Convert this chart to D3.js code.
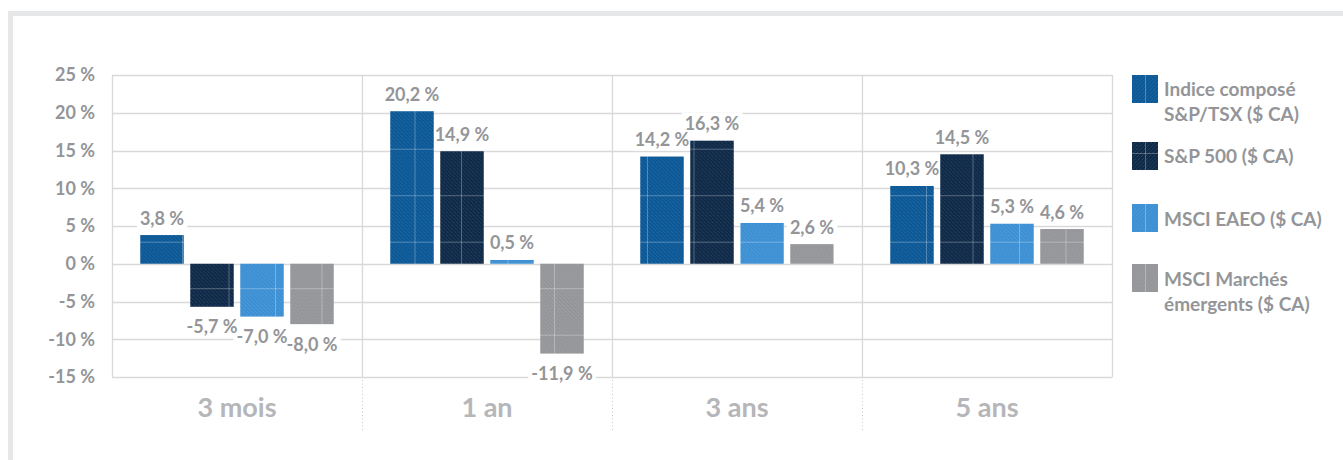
<!DOCTYPE html>
<html>
<head>
<meta charset="utf-8">
<script src="https://cdn.jsdelivr.net/npm/d3@7"></script>
<style>
  html, body { margin: 0; padding: 0; background: #fff; }
  svg { display: block; font-family: Lato, "Open Sans", sans-serif; }
</style>
</head>
<body>
<svg id="chart" width="1343" height="460"></svg>
<script>
const categories = ["3 mois", "1 an", "3 ans", "5 ans"];
const seriesNames = ["Indice composé S&P/TSX ($ CA)", "S&P 500 ($ CA)", "MSCI EAEO ($ CA)", "MSCI Marchés émergents ($ CA)"];
const legendLines = [["Indice composé", "S&P/TSX ($ CA)"], ["S&P 500 ($ CA)"], ["MSCI EAEO ($ CA)"], ["MSCI Marchés", "émergents ($ CA)"]];
const tsxValues = [3.8, 20.2, 14.2, 10.3];
const sp500Values = [-5.7, 14.9, 16.3, 14.5];
const eaeoValues = [-7.0, 0.5, 5.4, 5.3];
const emValues = [-8.0, -11.9, 2.6, 4.6];
const yTicks = [-15, -10, -5, 0, 5, 10, 15, 20, 25];
const colors = ["#0a5796", "#0d2847", "#3b8fd3", "#939598"];

const seriesValues = [tsxValues, sp500Values, eaeoValues, emValues];
const fmt = v => v.toFixed(1).replace(".", ",") + " %";

const svg = d3.select("#chart");
const M = { left: 112, right: 1112, top: 75, bottom: 377 };

// frame
svg.append("rect").attr("x", 8).attr("y", 11).attr("width", 1335).attr("height", 5).attr("fill", "#e6e7e8");
svg.append("rect").attr("x", 8).attr("y", 11).attr("width", 5).attr("height", 449).attr("fill", "#e6e7e8");

const x0 = d3.scaleBand().domain(categories).range([M.left, M.right]).padding(0);
const x1 = d3.scaleBand().domain(d3.range(4)).range([0, x0.bandwidth()]).paddingInner(0.13).paddingOuter(0.565);
const y = d3.scaleLinear().domain([-15, 25]).range([M.bottom, M.top]);

// patterns
const defs = svg.append("defs");
const T = 46.5;
function makePattern(id, color, dir, ox, oy) {
  const p = defs.append("pattern").attr("id", id).attr("patternUnits", "userSpaceOnUse")
    .attr("width", T).attr("height", T).attr("x", ox).attr("y", oy);
  p.append("rect").attr("width", T).attr("height", T).attr("fill", color);
  const n = 12, s = T / n;
  for (let k = -n; k <= n; k++) {
    const a = k * s;
    if (dir > 0) p.append("line").attr("x1", a).attr("y1", 0).attr("x2", a + T).attr("y2", T);
    else p.append("line").attr("x1", a).attr("y1", T).attr("x2", a + T).attr("y2", 0);
  }
  p.selectAll("line").attr("stroke", "#fff").attr("stroke-opacity", 0.2).attr("stroke-width", 0.9).attr("stroke-dasharray", "1.2,0.8");
  p.append("line").attr("x1", 0.5).attr("y1", 0).attr("x2", 0.5).attr("y2", T).attr("stroke", "#fff").attr("stroke-opacity", 0.28).attr("stroke-width", 1);
  p.append("line").attr("x1", 0).attr("y1", 0.5).attr("x2", T).attr("y2", 0.5).attr("stroke", "#fff").attr("stroke-opacity", 0.28).attr("stroke-width", 1);
}
colors.forEach((c, i) => {
  makePattern("pb" + i, c, 1, 182 % T, 241.7 % T);
  makePattern("pl" + i, c, -1, 1145 % T, 60 % T);
});

// gridlines
const g = svg.append("g");
g.selectAll("line.grid").data(yTicks).join("line")
  .attr("x1", M.left).attr("x2", M.right)
  .attr("y1", d => Math.round(y(d)) + 0.5).attr("y2", d => Math.round(y(d)) + 0.5)
  .attr("stroke", "#d9d9d9").attr("stroke-width", 1.3);
// vertical borders/separators
const seps = categories.map(c => x0(c)).concat([M.right]);
g.selectAll("line.sep").data(seps).join("line")
  .attr("x1", d => Math.round(d) + 0.5).attr("x2", d => Math.round(d) + 0.5)
  .attr("y1", M.top).attr("y2", M.bottom + 0.5)
  .attr("stroke", "#d9d9d9").attr("stroke-width", 1.3);
g.selectAll("line.dot").data(seps.slice(1, 4)).join("line")
  .attr("x1", d => Math.round(d) + 0.5).attr("x2", d => Math.round(d) + 0.5)
  .attr("y1", M.bottom + 3).attr("y2", 432)
  .attr("stroke", "#c8c8c8").attr("stroke-width", 1).attr("stroke-dasharray", "1,2.5");

// y tick labels
svg.selectAll("text.ytick").data(yTicks).join("text")
  .attr("x", 95).attr("y", d => y(d)).attr("dy", "0.36em")
  .attr("text-anchor", "end").attr("fill", "#939598")
  .attr("font-size", 18).attr("font-weight", 700)
  .text(d => d + " %");

// category labels
svg.selectAll("text.cat").data(categories).join("text")
  .attr("x", d => x0(d) + x0.bandwidth() / 2).attr("y", 417)
  .attr("text-anchor", "middle").attr("fill", "#b5b6b9")
  .attr("font-size", 27).attr("font-weight", 700)
  .text(d => d);

const flat = [];
seriesValues.forEach((vals, si) => vals.forEach((v, ci) => flat.push({ si, ci, v })));

// label background layer (behind bars)
const bgLayer = svg.append("g");
const barLayer = svg.append("g");
const txtLayer = svg.append("g");

// bars
barLayer.selectAll("rect").data(flat).join("rect")
  .attr("x", d => x0(categories[d.ci]) + x1(d.si))
  .attr("width", x1.bandwidth())
  .attr("y", d => y(Math.max(0, d.v)))
  .attr("height", d => Math.abs(y(d.v) - y(0)))
  .attr("fill", d => `url(#pb${d.si})`);

// data labels
flat.forEach(d => {
  const cx = x0(categories[d.ci]) + x1(d.si) + x1.bandwidth() / 2;
  const cy = d.v >= 0 ? y(d.v) - 17 : y(d.v) + 20;
  const t = txtLayer.append("text").attr("x", cx).attr("y", cy).attr("dy", "0.36em")
    .attr("text-anchor", "middle").attr("fill", "#939598")
    .attr("font-size", 18).attr("font-weight", 700).text(fmt(d.v));
  const b = t.node().getBBox();
  bgLayer.append("rect").attr("fill", "#fff")
    .attr("x", b.x - 3).attr("y", cy - 11).attr("width", b.width + 6).attr("height", 22);
});

// legend
const leg = svg.append("g");
const swY = [75, 142, 204, 264];
const baseY = [95.7, 162.7, 225.7, 285.7];
legendLines.forEach((lines, i) => {
  leg.append("rect").attr("x", 1132).attr("y", swY[i]).attr("width", 26).attr("height", 28)
    .attr("fill", `url(#pl${i})`);
  const t = leg.append("text").attr("x", 1164).attr("y", baseY[i])
    .attr("fill", "#939598").attr("font-size", 19).attr("font-weight", 700);
  lines.forEach((l, j) => t.append("tspan").attr("x", 1164).attr("dy", j === 0 ? 0 : 25).text(l));
});
</script>
</body>
</html>
